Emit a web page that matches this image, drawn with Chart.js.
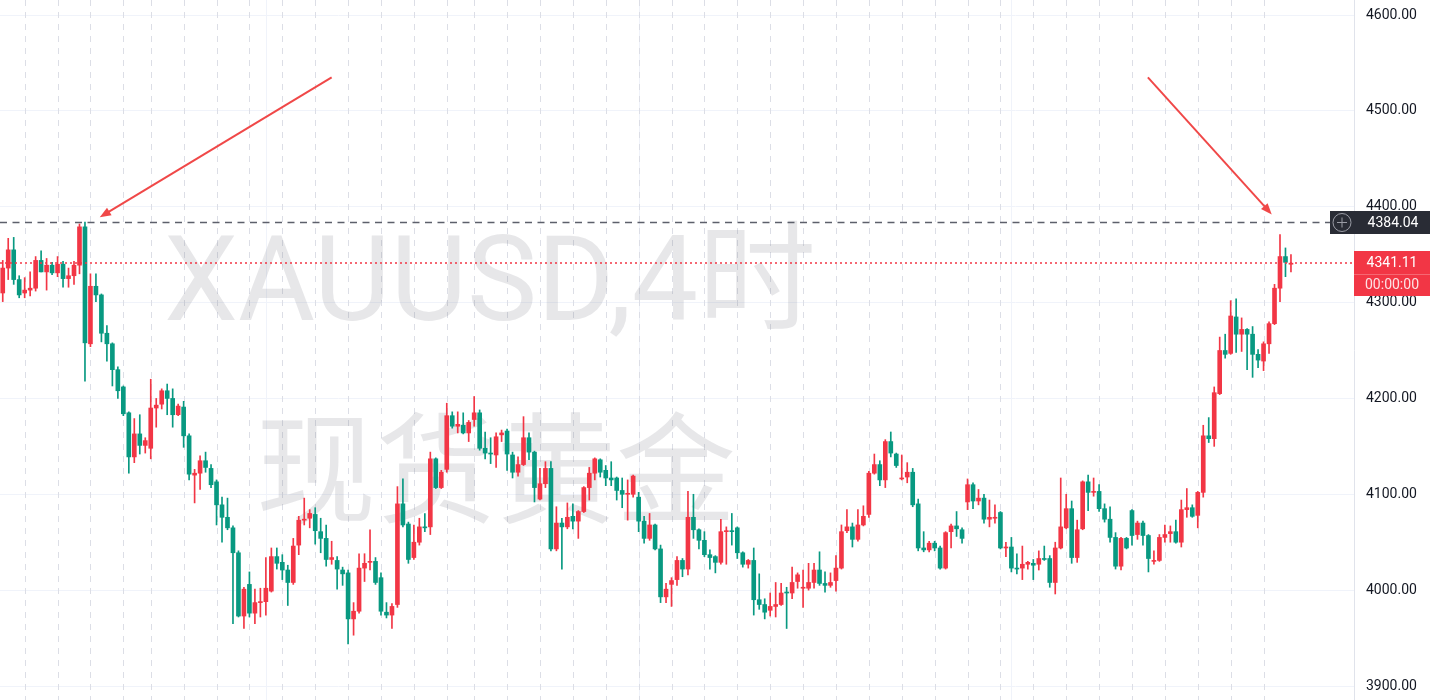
<!DOCTYPE html>
<html lang="zh">
<head>
<meta charset="utf-8">
<title>XAUUSD 4时 现货黄金</title>
<script src="https://cdn.jsdelivr.net/npm/chart.js@4.4.1/dist/chart.umd.min.js"></script>
<style>
  html, body { margin: 0; padding: 0; background: #ffffff; }
  #wrap { position: relative; width: 1430px; height: 700px; }
</style>
</head>
<body>
<div id="wrap"><canvas id="chartXau" width="1430" height="700"></canvas></div>
<script>
/* ===============================
   DADOS (velas de 4h)
================================= */
const opens = [
  4310,4336,4355,4324,4310,4313,4315,4344,4332,4339,
  4331,4340,4325,4328,4339,4379,4257,4317,4308,4268,
  4257,4230,4212,4185,4139,4163,4151,4148,4190,4194,
  4208,4200,4183,4191,4161,4120,4122,4135,4127,4113,
  4089,4076,4065,4039,3973,4006,3976,3987,3988,3999,
  4035,4029,4021,4008,4047,4073,4075,4079,4061,4054,
  4032,4031,4021,4018,3970,3978,4023,4029,4030,4013,
  3977,3974,3985,4090,4069,4034,4050,4066,4066,4137,
  4107,4126,4182,4171,4172,4164,4178,4185,4148,4143,
  4141,4162,4166,4141,4123,4131,4159,4144,4095,4111,
  4127,4043,4070,4066,4077,4072,4082,4107,4122,4136,
  4125,4117,4117,4104,4100,4100,4097,4072,4054,4068,
  4043,3993,4006,4011,4031,4022,4076,4063,4052,4037,
  4035,4029,4061,4062,4065,4039,4027,4031,3990,3985,
  3979,3983,3985,3998,3997,4009,4002,4002,4008,4021,
  4007,4005,4010,4023,4062,4066,4053,4068,4079,4122,
  4131,4115,4155,4142,4116,4118,4123,4090,4044,4042,
  4049,4044,4023,4061,4067,4063,4092,4110,4093,4096,
  4074,4075,4081,4044,4045,4023,4023,4027,4028,4027,
  4033,4033,4008,4044,4065,4085,4034,4064,4113,4102,
  4103,4085,4074,4055,4025,4054,4083,4058,4070,4057,
  4030,4031,4055,4059,4061,4050,4084,4086,4078,4102,
  4161,4158,4205,4250,4247,4285,4267,4272,4267,4246,
  4239,4257,4278,4315,4348,4340
];
const highs = [
  4344,4367,4368,4328,4326,4332,4348,4354,4346,4342,
  4348,4343,4336,4343,4382,4384,4330,4330,4309,4276,
  4258,4233,4213,4186,4179,4183,4159,4220,4200,4210,
  4215,4210,4194,4197,4163,4126,4140,4144,4131,4115,
  4097,4096,4067,4041,4003,4019,4001,4002,4034,4044,
  4044,4037,4026,4054,4077,4096,4084,4086,4075,4068,
  4051,4035,4024,4021,3987,4038,4038,4063,4034,4018,
  3987,3986,4108,4116,4071,4068,4075,4080,4144,4138,
  4125,4195,4186,4186,4185,4177,4202,4188,4165,4159,
  4164,4167,4168,4144,4139,4181,4164,4145,4127,4134,
  4134,4087,4075,4091,4090,4083,4108,4128,4138,4137,
  4130,4134,4118,4117,4115,4120,4102,4077,4080,4069,
  4047,4007,4013,4035,4033,4103,4100,4064,4061,4042,
  4036,4074,4066,4080,4066,4040,4032,4044,4017,3991,
  3997,4008,4007,4003,4024,4018,4021,4028,4028,4040,
  4019,4018,4036,4068,4084,4070,4084,4088,4124,4142,
  4135,4157,4165,4143,4141,4133,4127,4095,4061,4051,
  4051,4046,4061,4069,4082,4065,4116,4112,4105,4100,
  4094,4089,4082,4050,4055,4038,4046,4030,4032,4041,
  4046,4036,4050,4117,4100,4093,4073,4114,4120,4117,
  4110,4090,4087,4060,4055,4055,4084,4072,4072,4058,
  4041,4058,4068,4067,4073,4094,4106,4089,4103,4172,
  4180,4212,4264,4267,4302,4304,4284,4273,4275,4251,
  4259,4280,4319,4371,4357,4350
];
const lows = [
  4301,4324,4319,4305,4305,4307,4312,4332,4313,4329,
  4327,4316,4316,4319,4330,4218,4254,4301,4259,4239,
  4213,4200,4182,4122,4133,4142,4143,4137,4170,4189,
  4183,4170,4182,4149,4115,4091,4105,4123,4107,4068,
  4050,4063,3965,3972,3960,3972,3965,3972,3974,3998,
  4022,4011,3984,4006,4037,4068,4065,4048,4039,4025,
  4027,4001,4005,3944,3953,3976,4009,4021,4006,3974,
  3971,3960,3982,4066,4028,4032,4047,4061,4058,4106,
  4106,4123,4169,4164,4163,4155,4171,4146,4137,4132,
  4128,4155,4125,4117,4119,4130,4136,4092,4094,4107,
  4041,4041,4022,4064,4064,4054,4081,4094,4115,4118,
  4109,4109,4094,4086,4073,4097,4061,4049,4052,4042,
  3987,3987,3983,4005,4014,4016,4054,4043,4035,4022,
  4018,4027,4027,4047,4033,4024,4023,3974,3980,3970,
  3973,3972,3984,3960,3991,4002,3982,4000,4002,4005,
  3998,4003,3999,4022,4060,4045,4051,4067,4076,4121,
  4109,4107,4139,4128,4115,4112,4087,4041,4040,4040,
  4041,4022,4022,4044,4056,4049,4084,4085,4089,4070,
  4066,4070,4043,4035,4019,4017,4011,4022,4011,4021,
  4031,4003,3996,4043,4064,4028,4029,4063,4083,4098,
  4082,4071,4050,4022,4021,4043,4047,4053,4047,4019,
  4027,4030,4050,4050,4049,4045,4076,4076,4065,4097,
  4154,4150,4204,4242,4246,4248,4249,4230,4222,4232,
  4229,4247,4277,4301,4327,4332
];
const closes = [
  4336,4355,4324,4308,4313,4315,4344,4332,4339,4331,
  4340,4325,4328,4339,4379,4258,4317,4308,4268,4257,
  4230,4208,4184,4139,4163,4151,4156,4190,4193,4208,
  4200,4183,4192,4161,4121,4122,4135,4128,4110,4089,
  4076,4065,4039,3973,4001,3976,3987,3988,4002,4035,
  4028,4021,4008,4046,4073,4074,4080,4062,4054,4032,
  4034,4022,4017,3970,3978,4023,4028,4030,4008,3978,
  3974,3983,4090,4068,4032,4050,4066,4065,4137,4107,
  4123,4182,4171,4173,4164,4175,4185,4148,4143,4142,
  4160,4164,4142,4123,4131,4159,4144,4107,4111,4127,
  4043,4070,4066,4076,4072,4082,4107,4122,4137,4123,
  4117,4115,4104,4100,4101,4119,4072,4054,4068,4043,
  3993,4001,4010,4031,4022,4076,4063,4052,4037,4034,
  4029,4061,4062,4061,4039,4027,4031,3990,3985,3977,
  3983,3985,3997,3997,4008,4016,4003,4008,4021,4007,
  4005,4008,4023,4061,4066,4053,4068,4077,4122,4131,
  4115,4155,4143,4130,4117,4123,4089,4044,4042,4049,
  4044,4023,4060,4067,4064,4054,4110,4093,4096,4074,
  4076,4076,4044,4045,4023,4022,4027,4029,4026,4033,
  4032,4008,4044,4066,4085,4034,4063,4113,4102,4103,
  4085,4074,4055,4025,4054,4044,4057,4070,4057,4033,
  4031,4055,4058,4061,4050,4084,4086,4077,4102,4161,
  4158,4206,4250,4246,4286,4267,4272,4267,4246,4240,
  4257,4278,4315,4348,4342,4341.11
];

// eixo de preços
const priceTicks = [3900, 4000, 4100, 4200, 4300, 4400, 4500, 4600];
const priceMin = 3885.4;
const priceMax = 4615.65;

// linhas de preço
const prevHigh = 4384.04;
const lastPrice = 4341.11;
const lastTime = '00:00:00';

// separadores de sessão (tracejados) e grade de tempo (sólida), em índice de vela
const sessionBreaks = [4,10,16,22,27,33,39,45,51,57,63,69,75,81,86,92,98,104,110,116,
  122,128,134,140,146,152,158,164,170,176,182,188,194,200,206,212,218,224,230];
const timeGrid = [48, 116, 184];

// setas: [índice, preço] de origem e de ponta
const arrows = [
  { from: [60, 4535], to: [17.7, 4389] },
  { from: [208.9, 4535], to: [231.5, 4392] }
];

const watermarkTitle = 'XAUUSD,4时';
const watermarkName = '现货黄金';

const TOTAL_SLOTS = 247;

/* ===============================
   PALETA
================================= */
const palette = {
    up: '#f23645',
    down: '#089981',
    grid: '#f0f3fa',
    session: '#dcdee6',
    axisBorder: '#e0e3eb',
    text: '#131722',
    watermark: 'rgba(120,123,134,0.18)',
    level: '#5d606b',
    arrow: '#f04848',
    labelDark: '#292c35'
};

const slots = Array.from({ length: TOTAL_SLOTS }, (_, i) => i);
const candleColor = i => closes[i] >= opens[i] ? palette.up : palette.down;

/* ===============================
   PLUGINS
================================= */
const fundoPlugin = {
    id: 'fundo',
    beforeDatasetsDraw(chart) {
        const { ctx, chartArea, scales: { x } } = chart;
        ctx.save();
        ctx.lineWidth = 1;

        ctx.strokeStyle = palette.grid;
        timeGrid.forEach(i => {
            const px = Math.round(x.getPixelForValue(i)) + 0.5;
            ctx.beginPath();
            ctx.moveTo(px, chartArea.top);
            ctx.lineTo(px, chartArea.bottom);
            ctx.stroke();
        });

        ctx.strokeStyle = palette.session;
        ctx.setLineDash([6, 6]);
        sessionBreaks.forEach(i => {
            const px = Math.round(x.getPixelForValue(i)) + 0.5;
            ctx.beginPath();
            ctx.moveTo(px, chartArea.top);
            ctx.lineTo(px, chartArea.bottom);
            ctx.stroke();
        });
        ctx.setLineDash([]);

        // marca d'água
        ctx.fillStyle = palette.watermark;
        ctx.textAlign = 'center';
        ctx.textBaseline = 'alphabetic';
        ctx.font = '118px Roboto, "Noto Sans CJK SC"';
        ctx.fillText(watermarkTitle, 490, 320);
        ctx.font = '120px "Noto Sans CJK SC"';
        ctx.fillText(watermarkName, 496, 514);
        ctx.restore();
    }
};

function drawArrow(ctx, x1, y1, x2, y2) {
    const ang = Math.atan2(y2 - y1, x2 - x1);
    const head = 12;
    ctx.beginPath();
    ctx.moveTo(x1, y1);
    ctx.lineTo(x2 - Math.cos(ang) * head * 0.7, y2 - Math.sin(ang) * head * 0.7);
    ctx.stroke();
    ctx.beginPath();
    ctx.moveTo(x2, y2);
    ctx.lineTo(x2 - head * Math.cos(ang - 0.38), y2 - head * Math.sin(ang - 0.38));
    ctx.lineTo(x2 - head * Math.cos(ang + 0.38), y2 - head * Math.sin(ang + 0.38));
    ctx.closePath();
    ctx.fill();
}

const sobrePlugin = {
    id: 'sobre',
    afterDraw(chart) {
        const { ctx, chartArea, scales: { x, y } } = chart;
        const W = chart.width;
        ctx.save();

        // máxima anterior
        const yHigh = Math.round(y.getPixelForValue(prevHigh)) + 0.5;
        ctx.strokeStyle = palette.level;
        ctx.lineWidth = 1.5;
        ctx.setLineDash([7, 5.5]);
        ctx.beginPath();
        ctx.moveTo(chartArea.left, yHigh);
        ctx.lineTo(chartArea.right, yHigh);
        ctx.stroke();

        // último preço
        const yLast = Math.round(y.getPixelForValue(lastPrice));
        ctx.strokeStyle = palette.up;
        ctx.lineWidth = 1.5;
        ctx.setLineDash([2, 3]);
        ctx.beginPath();
        ctx.moveTo(chartArea.left, yLast);
        ctx.lineTo(chartArea.right, yLast);
        ctx.stroke();
        ctx.setLineDash([]);

        // setas
        ctx.strokeStyle = palette.arrow;
        ctx.fillStyle = palette.arrow;
        ctx.lineWidth = 2;
        arrows.forEach(a => {
            drawArrow(ctx,
                x.getPixelForValue(a.from[0]), y.getPixelForValue(a.from[1]),
                x.getPixelForValue(a.to[0]), y.getPixelForValue(a.to[1]));
        });

        // etiqueta escura da máxima
        const boxL = chartArea.right - 24;
        ctx.fillStyle = palette.labelDark;
        ctx.fillRect(boxL, yHigh - 11.5, W - boxL, 23);
        ctx.strokeStyle = '#9a9ca5';
        ctx.lineWidth = 1;
        ctx.beginPath();
        ctx.arc(boxL + 12, yHigh, 9, 0, Math.PI * 2);
        ctx.stroke();
        ctx.beginPath();
        ctx.moveTo(boxL + 7, yHigh); ctx.lineTo(boxL + 17, yHigh);
        ctx.moveTo(boxL + 12, yHigh - 5); ctx.lineTo(boxL + 12, yHigh + 5);
        ctx.stroke();

        const midX = (chartArea.right + W) / 2;
        ctx.font = '14px Roboto';
        ctx.textAlign = 'center';
        ctx.textBaseline = 'middle';
        ctx.fillStyle = '#ffffff';
        ctx.fillText(prevHigh.toFixed(2), midX + 1, yHigh + 0.5);

        // etiqueta vermelha do último preço
        ctx.fillStyle = palette.up;
        ctx.fillRect(chartArea.right, yLast - 12, W - chartArea.right, 45);
        ctx.fillStyle = 'rgba(255,255,255,0.25)';
        ctx.fillRect(chartArea.right, yLast + 11, W - chartArea.right, 1);
        ctx.fillStyle = '#ffffff';
        ctx.fillText(lastPrice.toFixed(2), midX, yLast);
        ctx.fillStyle = 'rgba(255,255,255,0.85)';
        ctx.fillText(lastTime, midX, yLast + 22.5);

        ctx.restore();
    }
};

/* ===============================
   GRÁFICO
================================= */
new Chart(document.getElementById('chartXau'), {
    type: 'bar',
    data: {
        labels: slots,
        datasets: [
            {
                label: 'corpo',
                data: opens.map((o, i) => [o, closes[i]]),
                backgroundColor: ctx => candleColor(ctx.dataIndex),
                barThickness: 4,
                minBarLength: 1,
                grouped: false,
                borderWidth: 0
            },
            {
                label: 'pavio',
                data: lows.map((l, i) => [l, highs[i]]),
                backgroundColor: ctx => candleColor(ctx.dataIndex),
                barThickness: 1,
                grouped: false,
                borderWidth: 0
            }
        ]
    },
    options: {
        responsive: false,
        animation: false,
        devicePixelRatio: 1,
        events: [],
        layout: { padding: 0 },
        plugins: {
            legend: { display: false },
            tooltip: { enabled: false }
        },
        scales: {
            x: {
                type: 'category',
                display: false,
                offset: true,
                grid: { display: false }
            },
            y: {
                position: 'right',
                min: priceMin,
                max: priceMax,
                afterBuildTicks: s => { s.ticks = priceTicks.map(v => ({ value: v })); },
                afterFit: s => { s.width = 76; s.paddingTop = 0; s.paddingBottom = 0; },
                grid: { color: palette.grid, drawTicks: false },
                border: { display: true, color: palette.axisBorder },
                ticks: {
                    padding: 12,
                    color: palette.text,
                    font: { family: 'Roboto', size: 14 },
                    callback: v => Number(v).toFixed(2)
                }
            }
        }
    },
    plugins: [fundoPlugin, sobrePlugin]
});
</script>
</body>
</html>
